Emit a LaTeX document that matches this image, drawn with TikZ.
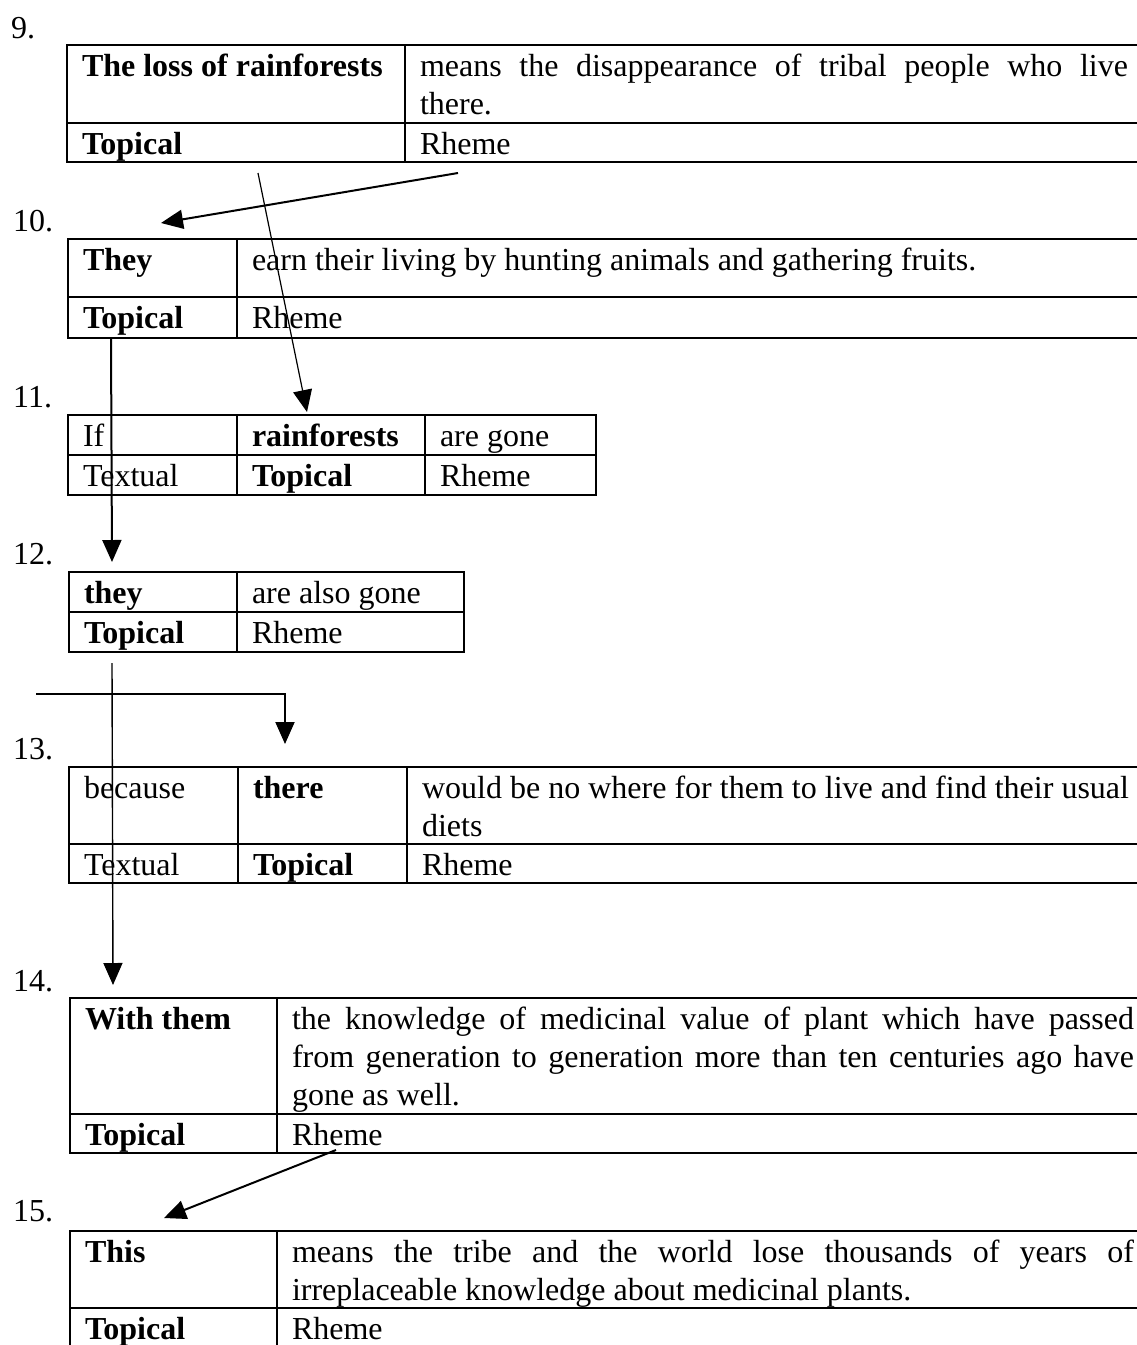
\documentclass[tikz,border=0pt]{standalone}
\usepackage{fontspec}
\setmainfont{Liberation Serif}
\usetikzlibrary{calc,arrows.meta}

% one table cell: name, left, top, width, height, content
\newcommand\tcell[6]{%
  \node[cellbox, minimum width=#4pt, minimum height=#5pt] (#1) at (#2,#3) {};
  \node[celltext] (#1-t) at ($(#1.north west)+(15,31)$) {#6};
}

\begin{document}
\begin{tikzpicture}[x=1pt,y=-1pt,
  cellbox/.style={draw=black, line width=2.2pt, inner sep=0pt, outer sep=0pt,
                  anchor=north west, rectangle},
  celltext/.style={inner sep=0pt, outer sep=0pt, anchor=base west,
                   font=\fontsize{32}{38}\selectfont},
  numlabel/.style={inner sep=0pt, anchor=base west,
                   font=\fontsize{32}{38}\selectfont},
  link/.style={line width=2pt, -{Triangle[length=22pt,width=19pt]}},
  thinlink/.style={line width=1.2pt, -{Triangle[length=22pt,width=19pt]}}]

\useasboundingbox (0,0) rectangle (1137,1345);
\fill[white] (0,0) rectangle (1137,1345);
\clip (0,0) rectangle (1137,1345);

% clause numbers
\node[numlabel] (n9)  at (11,38)   {9.};
\node[numlabel] (n10) at (13,231)  {10.};
\node[numlabel] (n11) at (13,407)  {11.};
\node[numlabel] (n12) at (13,564)  {12.};
\node[numlabel] (n13) at (13,759)  {13.};
\node[numlabel] (n14) at (13,991)  {14.};
\node[numlabel] (n15) at (13,1221) {15.};

% clause 9
\tcell{t9a}{67}{45}{338}{78}{\textbf{The loss of rainforests}}
\tcell{t9b}{405}{45}{800}{78}{\parbox[t]{708pt}{\makebox[708pt][s]{means the disappearance of tribal people who live}\par there.}}
\tcell{t9c}{67}{123}{338}{39}{\textbf{Topical}}
\tcell{t9d}{405}{123}{800}{39}{Rheme}

% clause 10
\tcell{t10a}{68}{239}{169}{58}{\textbf{They}}
\tcell{t10b}{237}{239}{950}{58}{earn their living by hunting animals and gathering fruits.}
\tcell{t10c}{68}{297}{169}{41}{\textbf{Topical}}
\tcell{t10d}{237}{297}{950}{41}{Rheme}

% clause 11
\tcell{t11a}{68}{415}{169}{40}{If}
\tcell{t11b}{237}{415}{188}{40}{\textbf{rainforests}}
\tcell{t11c}{425}{415}{171}{40}{are gone}
\tcell{t11d}{68}{455}{169}{40}{Textual}
\tcell{t11e}{237}{455}{188}{40}{\textbf{Topical}}
\tcell{t11f}{425}{455}{171}{40}{Rheme}

% clause 12
\tcell{t12a}{69}{572}{168}{40}{\textbf{they}}
\tcell{t12b}{237}{572}{227}{40}{are also gone}
\tcell{t12c}{69}{612}{168}{40}{\textbf{Topical}}
\tcell{t12d}{237}{612}{227}{40}{Rheme}

% clause 13
\tcell{t13a}{69}{767}{169}{77}{because}
\tcell{t13b}{238}{767}{169}{77}{\textbf{there}}
\tcell{t13c}{407}{767}{800}{77}{\parbox[t]{707pt}{\makebox[707pt][s]{would be no where for them to live and find their usual}\par diets}}
\tcell{t13d}{69}{844}{169}{39}{Textual}
\tcell{t13e}{238}{844}{169}{39}{\textbf{Topical}}
\tcell{t13f}{407}{844}{800}{39}{Rheme}

% clause 14
\tcell{t14a}{70}{998}{207}{116}{\textbf{With them}}
\tcell{t14b}{277}{998}{900}{116}{\parbox[t]{842pt}{\makebox[842pt][s]{the knowledge of medicinal value of plant which have passed}\par\makebox[842pt][s]{from generation to generation more than ten centuries ago have}\par gone as well.}}
\tcell{t14c}{70}{1114}{207}{39}{\textbf{Topical}}
\tcell{t14d}{277}{1114}{900}{39}{Rheme}

% clause 15
\tcell{t15a}{70}{1231}{207}{77}{\textbf{This}}
\tcell{t15b}{277}{1231}{900}{77}{\parbox[t]{842pt}{\makebox[842pt][s]{means the tribe and the world lose thousands of years of}\par irreplaceable knowledge about medicinal plants.}}
\tcell{t15c}{70}{1308}{207}{42}{\textbf{Topical}}
\tcell{t15d}{277}{1308}{900}{42}{Rheme}

% thematic progression links
\coordinate (a1s) at (458,173);  \coordinate (a1e) at (161,223);
\coordinate (a2s) at (258,173);  \coordinate (a2e) at (307,412);
\coordinate (a3s) at (111,339);  \coordinate (a3e) at (112,562);
\coordinate (a4s) at (112,663);  \coordinate (a4e) at (113,985);
\coordinate (a5s) at (36,694);   \coordinate (a5m) at (285,694);
\coordinate (a5e) at (285,744);
\coordinate (a6s) at (336,1150); \coordinate (a6e) at (164,1218);

\draw[link] (a1s) -- (a1e);
\draw[thinlink] (a2s) -- (a2e);
\draw[link] (a3s) -- (a3e);
\draw[thinlink, line width=1.4pt] (a4s) -- (a4e);
\draw[link] (a5s) -- (a5m) -- (a5e);
\draw[link] (a6s) -- (a6e);

\end{tikzpicture}
\end{document}
